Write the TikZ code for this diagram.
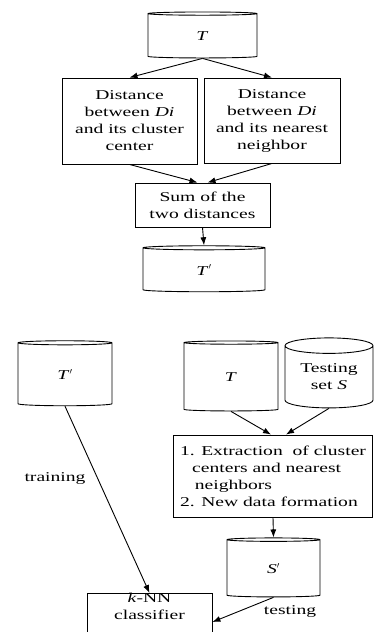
\documentclass[tikz,border=0pt]{standalone}
\usepackage{fontspec}
\setmainfont{Liberation Serif}[FakeStretch=1.45]
\usetikzlibrary{shapes.geometric, arrows.meta, positioning}

\begin{document}
\begin{tikzpicture}[x=1pt,y=-1pt,
  txt/.style={font=\fontsize{13.5}{17}\selectfont},
  box/.style={txt, draw, line width=0.9pt, align=center, inner sep=0pt},
  db/.style={txt, draw, cylinder, shape border rotate=90, aspect=0.27, line width=0.9pt, align=center, inner sep=0pt},
  arr/.style={-{Latex[length=8pt,width=6pt]}, line width=0.9pt}]
\useasboundingbox (0,0) rectangle (374,632);
\fill[white] (0,0) rectangle (374,632);

% upper part
\node[db, minimum width=109pt, minimum height=46pt] (inT) at (202.5,36) {\textit{T}};
\node[box, minimum width=135pt, minimum height=86pt] (dcc) at (129.5,121) {Distance\\between \textit{Di}\\and its cluster\\center};
\node[box, minimum width=136pt, minimum height=85pt] (dnn) at (272,120.5) {Distance\\between \textit{Di}\\and its nearest\\neighbor};
\node[box, minimum width=135pt, minimum height=44pt] (sum) at (202.5,205) {Sum of the\\two distances};
\node[db, minimum width=122pt, minimum height=46pt] (outT) at (204,270) {\textit{T}$'$};

\draw[arr] (inT.south) -- (dcc.north);
\draw[arr] (inT.south) -- (dnn.north);
\draw[arr] (dcc.south) -- ([xshift=-5pt]sum.north);
\draw[arr] (dnn.south) -- ([xshift=5pt]sum.north);
\draw[arr] (sum.south) -- (outT.north);

% lower part
\node[db, minimum width=94pt, minimum height=65pt] (trainT) at (65,374.5) {\textit{T}$'$};
\node[db, minimum width=94pt, minimum height=70pt] (testT) at (231,377) {\textit{T}};
\node[db, minimum width=88pt, minimum height=70pt] (setS) at (329,377) {Testing\\set \textit{S}};
\node[box, minimum width=199pt, minimum height=82pt, align=left] (ext) at (273,476) {1. Extraction\ \ of cluster\\\hspace*{0.9em}centers\ and nearest\\\hspace*{1.1em}neighbors\\2. New data formation};
\node[db, minimum width=93pt, minimum height=59pt] (testS) at (273.5,568.5) {\textit{S}$'$};
\node[box, minimum width=125pt, anchor=north, text depth=24pt] (knn) at (149.5,593) {\textit{k}-NN\\classifier};

\draw[arr] (testT.south) -- ([xshift=-2pt]ext.north);
\draw[arr] (setS.south) -- ([xshift=13pt]ext.north);
\draw[arr] (ext.south) -- (testS.north);
\draw[arr] (trainT.south) -- (knn.north);
\draw[arr] (testS.south) -- ([yshift=-29pt]knn.north east);

\node[txt] (trlabel) at (55,478) {training};
\node[txt] (tslabel) at (290,611) {testing};
\end{tikzpicture}
\end{document}
